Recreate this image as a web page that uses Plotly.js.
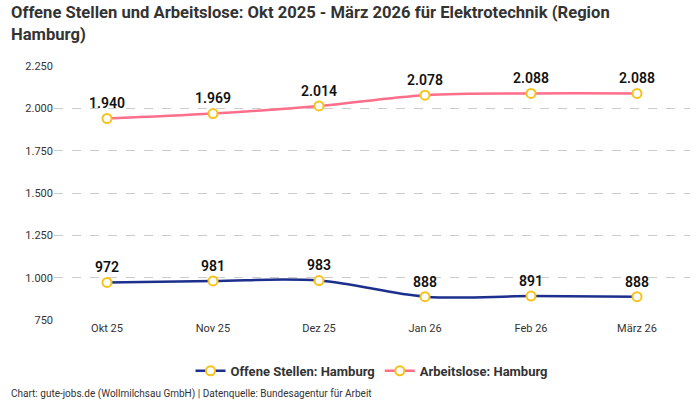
<!DOCTYPE html>
<html><head><meta charset="utf-8">
<script src="https://cdn.plot.ly/plotly-3.0.1.min.js"></script>
<style>body{margin:0}#c{width:700px;height:400px}</style>
</head><body><div id="c"></div>
<script>
const categories = ["Okt 25","Nov 25","Dez 25","Jan 26","Feb 26","März 26"];
const offeneStellen = [972, 981, 983, 888, 891, 888];
const arbeitslose = [1940, 1969, 2014, 2078, 2088, 2088];
const yTicks = [750, 1000, 1250, 1500, 1750, 2000, 2250];

const font = "Roboto, 'Liberation Sans Narrow', sans-serif";
const marker = {size: 9, color: "#ffffff", line: {color: "#f7c21b", width: 2}};
const labelFont = {family: font, size: 14, color: "#111", weight: 600};
const traces = [
  {x: categories, y: offeneStellen, name: "Offene Stellen: Hamburg", mode: "lines+markers+text",
   line: {color: "#1c2f8c", width: 2.5, shape: "spline"}, marker: marker,
   texttemplate: "%{y:,d}", textposition: "top center", textfont: labelFont, cliponaxis: false},
  {x: categories, y: arbeitslose, name: "Arbeitslose: Hamburg", mode: "lines+markers+text",
   line: {color: "#ff6e8a", width: 2.5, shape: "spline"}, marker: marker,
   texttemplate: "%{y:,d}", textposition: "top center", textfont: labelFont, cliponaxis: false}
];
const layout = {
  width: 700, height: 400, separators: ",.",
  font: {family: font, color: "#333"},
  margin: {l: 54, r: 10, t: 66, b: 80},
  xaxis: {range: [-0.5, 5.5], showgrid: false, zeroline: false, showline: false, ticks: "",
          tickfont: {size: 11, color: "#333"}},
  yaxis: {range: [750, 2250], tickvals: yTicks, tickformat: ",d", showgrid: true,
          gridcolor: "#cccccc", griddash: "dash", zeroline: false, tickfont: {size: 11, color: "#333"},
          ticklabelstandoff: 0},
  showlegend: true,
  legend: {orientation: "h", x: 0.5, xanchor: "center", y: -0.2, yanchor: "middle",
           font: {size: 13, color: "#333", weight: "bold"}},
  annotations: [
    {text: "<b>Offene Stellen und Arbeitslose: Okt 2025 - März 2026 für Elektrotechnik (Region<br>Hamburg)</b>",
     xref: "paper", yref: "paper", x: -0.07, y: 1.255, xanchor: "left", yanchor: "top", align: "left",
     showarrow: false, font: {size: 16.6, color: "#333"}},
    {text: "Chart: gute-jobs.de (Wollmilchsau GmbH) | Datenquelle: Bundesagentur für Arbeit",
     xref: "paper", yref: "paper", x: -0.07, y: -0.29, xanchor: "left", yanchor: "middle",
     showarrow: false, font: {size: 10, color: "#333"}}],
  plot_bgcolor: "#fff", paper_bgcolor: "#fff"
};
Plotly.newPlot("c", traces, layout, {displayModeBar: false});
</script></body></html>
